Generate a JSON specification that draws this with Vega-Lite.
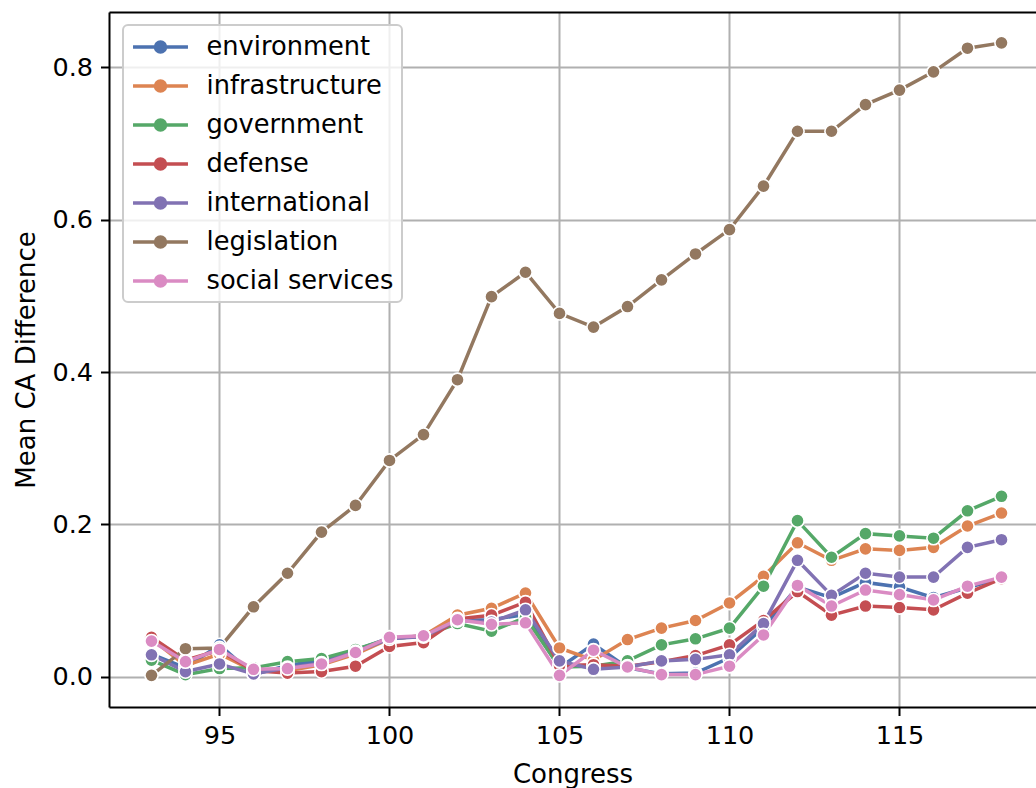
{
  "$schema": "https://vega.github.io/schema/vega-lite/v6.json",
  "autosize": "none",
  "width": 927,
  "height": 695,
  "padding": {"left": 109, "top": 12, "right": 0, "bottom": 81},
  "background": "white",
  "config": {
    "font": "DejaVu Sans",
    "view": {"stroke": null},
    "axis": {
      "labelFont": "DejaVu Sans",
      "titleFont": "DejaVu Sans",
      "labelFontSize": 25.5,
      "titleFontSize": 26,
      "titleFontWeight": "normal",
      "labelColor": "black",
      "titleColor": "black",
      "domainColor": "black",
      "domainWidth": 2,
      "tickColor": "black",
      "tickWidth": 2,
      "tickSize": 8.5,
      "labelPadding": 8,
      "gridColor": "#b0b0b0",
      "gridWidth": 2,
      "gridOpacity": 1
    }
  },
  "data": {
    "values": [
      {"c":93,"s":"environment","v":0.030},{"c":94,"s":"environment","v":0.012},{"c":95,"s":"environment","v":0.042},{"c":96,"s":"environment","v":0.003},{"c":97,"s":"environment","v":0.015},{"c":98,"s":"environment","v":0.022},{"c":99,"s":"environment","v":0.035},{"c":100,"s":"environment","v":0.051},{"c":101,"s":"environment","v":0.053},{"c":102,"s":"environment","v":0.074},{"c":103,"s":"environment","v":0.075},{"c":104,"s":"environment","v":0.082},{"c":105,"s":"environment","v":0.012},{"c":106,"s":"environment","v":0.043},{"c":107,"s":"environment","v":0.012},{"c":108,"s":"environment","v":0.004},{"c":109,"s":"environment","v":0.005},{"c":110,"s":"environment","v":0.025},{"c":111,"s":"environment","v":0.065},{"c":112,"s":"environment","v":0.118},{"c":113,"s":"environment","v":0.104},{"c":114,"s":"environment","v":0.124},{"c":115,"s":"environment","v":0.118},{"c":116,"s":"environment","v":0.104},{"c":117,"s":"environment","v":0.117},{"c":118,"s":"environment","v":0.130},
      {"c":93,"s":"infrastructure","v":0.050},{"c":94,"s":"infrastructure","v":0.015},{"c":95,"s":"infrastructure","v":0.030},{"c":96,"s":"infrastructure","v":0.008},{"c":97,"s":"infrastructure","v":0.008},{"c":98,"s":"infrastructure","v":0.016},{"c":99,"s":"infrastructure","v":0.030},{"c":100,"s":"infrastructure","v":0.050},{"c":101,"s":"infrastructure","v":0.054},{"c":102,"s":"infrastructure","v":0.081},{"c":103,"s":"infrastructure","v":0.090},{"c":104,"s":"infrastructure","v":0.110},{"c":105,"s":"infrastructure","v":0.038},{"c":106,"s":"infrastructure","v":0.022},{"c":107,"s":"infrastructure","v":0.049},{"c":108,"s":"infrastructure","v":0.064},{"c":109,"s":"infrastructure","v":0.074},{"c":110,"s":"infrastructure","v":0.097},{"c":111,"s":"infrastructure","v":0.132},{"c":112,"s":"infrastructure","v":0.176},{"c":113,"s":"infrastructure","v":0.153},{"c":114,"s":"infrastructure","v":0.168},{"c":115,"s":"infrastructure","v":0.166},{"c":116,"s":"infrastructure","v":0.170},{"c":117,"s":"infrastructure","v":0.198},{"c":118,"s":"infrastructure","v":0.215},
      {"c":93,"s":"government","v":0.022},{"c":94,"s":"government","v":0.003},{"c":95,"s":"government","v":0.011},{"c":96,"s":"government","v":0.012},{"c":97,"s":"government","v":0.020},{"c":98,"s":"government","v":0.024},{"c":99,"s":"government","v":0.036},{"c":100,"s":"government","v":0.050},{"c":101,"s":"government","v":0.054},{"c":102,"s":"government","v":0.070},{"c":103,"s":"government","v":0.060},{"c":104,"s":"government","v":0.078},{"c":105,"s":"government","v":0.013},{"c":106,"s":"government","v":0.014},{"c":107,"s":"government","v":0.021},{"c":108,"s":"government","v":0.042},{"c":109,"s":"government","v":0.050},{"c":110,"s":"government","v":0.064},{"c":111,"s":"government","v":0.119},{"c":112,"s":"government","v":0.205},{"c":113,"s":"government","v":0.157},{"c":114,"s":"government","v":0.188},{"c":115,"s":"government","v":0.185},{"c":116,"s":"government","v":0.182},{"c":117,"s":"government","v":0.218},{"c":118,"s":"government","v":0.237},
      {"c":93,"s":"defense","v":0.052},{"c":94,"s":"defense","v":0.022},{"c":95,"s":"defense","v":0.035},{"c":96,"s":"defense","v":0.008},{"c":97,"s":"defense","v":0.005},{"c":98,"s":"defense","v":0.007},{"c":99,"s":"defense","v":0.014},{"c":100,"s":"defense","v":0.040},{"c":101,"s":"defense","v":0.045},{"c":102,"s":"defense","v":0.076},{"c":103,"s":"defense","v":0.081},{"c":104,"s":"defense","v":0.098},{"c":105,"s":"defense","v":0.015},{"c":106,"s":"defense","v":0.016},{"c":107,"s":"defense","v":0.014},{"c":108,"s":"defense","v":0.020},{"c":109,"s":"defense","v":0.028},{"c":110,"s":"defense","v":0.042},{"c":111,"s":"defense","v":0.074},{"c":112,"s":"defense","v":0.112},{"c":113,"s":"defense","v":0.081},{"c":114,"s":"defense","v":0.093},{"c":115,"s":"defense","v":0.091},{"c":116,"s":"defense","v":0.088},{"c":117,"s":"defense","v":0.110},{"c":118,"s":"defense","v":0.129},
      {"c":93,"s":"international","v":0.029},{"c":94,"s":"international","v":0.007},{"c":95,"s":"international","v":0.017},{"c":96,"s":"international","v":0.004},{"c":97,"s":"international","v":0.012},{"c":98,"s":"international","v":0.018},{"c":99,"s":"international","v":0.033},{"c":100,"s":"international","v":0.050},{"c":101,"s":"international","v":0.053},{"c":102,"s":"international","v":0.074},{"c":103,"s":"international","v":0.072},{"c":104,"s":"international","v":0.088},{"c":105,"s":"international","v":0.021},{"c":106,"s":"international","v":0.010},{"c":107,"s":"international","v":0.013},{"c":108,"s":"international","v":0.021},{"c":109,"s":"international","v":0.023},{"c":110,"s":"international","v":0.029},{"c":111,"s":"international","v":0.070},{"c":112,"s":"international","v":0.153},{"c":113,"s":"international","v":0.107},{"c":114,"s":"international","v":0.136},{"c":115,"s":"international","v":0.131},{"c":116,"s":"international","v":0.131},{"c":117,"s":"international","v":0.170},{"c":118,"s":"international","v":0.180},
      {"c":93,"s":"legislation","v":0.002},{"c":94,"s":"legislation","v":0.037},{"c":95,"s":"legislation","v":0.038},{"c":96,"s":"legislation","v":0.092},{"c":97,"s":"legislation","v":0.136},{"c":98,"s":"legislation","v":0.190},{"c":99,"s":"legislation","v":0.225},{"c":100,"s":"legislation","v":0.284},{"c":101,"s":"legislation","v":0.318},{"c":102,"s":"legislation","v":0.390},{"c":103,"s":"legislation","v":0.499},{"c":104,"s":"legislation","v":0.531},{"c":105,"s":"legislation","v":0.477},{"c":106,"s":"legislation","v":0.459},{"c":107,"s":"legislation","v":0.486},{"c":108,"s":"legislation","v":0.521},{"c":109,"s":"legislation","v":0.555},{"c":110,"s":"legislation","v":0.587},{"c":111,"s":"legislation","v":0.644},{"c":112,"s":"legislation","v":0.716},{"c":113,"s":"legislation","v":0.716},{"c":114,"s":"legislation","v":0.751},{"c":115,"s":"legislation","v":0.770},{"c":116,"s":"legislation","v":0.794},{"c":117,"s":"legislation","v":0.825},{"c":118,"s":"legislation","v":0.832},
      {"c":93,"s":"social services","v":0.047},{"c":94,"s":"social services","v":0.020},{"c":95,"s":"social services","v":0.036},{"c":96,"s":"social services","v":0.010},{"c":97,"s":"social services","v":0.011},{"c":98,"s":"social services","v":0.017},{"c":99,"s":"social services","v":0.032},{"c":100,"s":"social services","v":0.052},{"c":101,"s":"social services","v":0.054},{"c":102,"s":"social services","v":0.075},{"c":103,"s":"social services","v":0.069},{"c":104,"s":"social services","v":0.071},{"c":105,"s":"social services","v":0.002},{"c":106,"s":"social services","v":0.035},{"c":107,"s":"social services","v":0.013},{"c":108,"s":"social services","v":0.003},{"c":109,"s":"social services","v":0.003},{"c":110,"s":"social services","v":0.014},{"c":111,"s":"social services","v":0.055},{"c":112,"s":"social services","v":0.120},{"c":113,"s":"social services","v":0.093},{"c":114,"s":"social services","v":0.114},{"c":115,"s":"social services","v":0.108},{"c":116,"s":"social services","v":0.101},{"c":117,"s":"social services","v":0.119},{"c":118,"s":"social services","v":0.131}
    ]
  },
  "encoding": {
    "y": {
      "field": "v",
      "type": "quantitative",
      "scale": {"domain": [-0.0395, 0.8725], "nice": false, "zero": false},
      "axis": {
        "title": "Mean CA Difference",
        "values": [0, 0.2, 0.4, 0.6, 0.8],
        "format": ".1f",
        "titlePadding": 12
      }
    },
    "color": {
      "field": "s",
      "type": "nominal",
      "scale": {
        "domain": ["environment", "infrastructure", "government", "defense", "international", "legislation", "social services"],
        "range": ["#4c72b0", "#dd8452", "#55a868", "#c44e52", "#8172b3", "#937860", "#da8bc3"]
      },
      "legend": {
        "title": null,
        "orient": "none",
        "legendX": 14,
        "legendY": 13,
        "padding": 8,
        "fillColor": "rgba(255,255,255,0.8)",
        "strokeColor": "#cccccc",
        "cornerRadius": 5,
        "labelFont": "DejaVu Sans",
        "labelFontSize": 25.7,
        "labelColor": "black",
        "labelLimit": 400,
        "symbolType": "M-2.29,0H2.29M0.42,0A0.42,0.42,0,1,1,-0.42,0A0.42,0.42,0,1,1,0.42,0Z",
        "symbolSize": 576,
        "symbolStrokeWidth": 3.4,
        "symbolOffset": 15.5,
        "labelOffset": 32,
        "rowPadding": 12,
        "encode": {
          "legend": {
            "update": {"strokeWidth": {"value": 2}}
          },
          "symbols": {
            "update": {
              "fill": {"scale": "color", "field": "value"},
              "stroke": {"scale": "color", "field": "value"},
              "opacity": {"value": 1}
            }
          }
        }
      }
    }
  },
  "layer": [
    {
      "mark": {"type": "line", "strokeWidth": 3.5, "clip": true},
      "encoding": {
        "x": {
          "field": "c",
          "type": "quantitative",
          "scale": {"domain": [91.75, 119.015], "nice": false, "zero": false},
          "axis": {"orient": "top", "labels": false, "ticks": false, "grid": false, "title": null}
        }
      }
    },
    {
      "mark": {"type": "point", "filled": true, "shape": "circle", "size": 175, "stroke": "white", "strokeWidth": 1.6, "opacity": 1, "clip": true},
      "encoding": {
        "x": {
          "field": "c",
          "type": "quantitative",
          "scale": {"domain": [91.75, 119.015], "nice": false, "zero": false},
          "axis": {"title": "Congress", "values": [95, 100, 105, 110, 115], "grid": true, "titlePadding": 12}
        }
      }
    }
  ],
  "resolve": {"axis": {"x": "independent"}}
}
